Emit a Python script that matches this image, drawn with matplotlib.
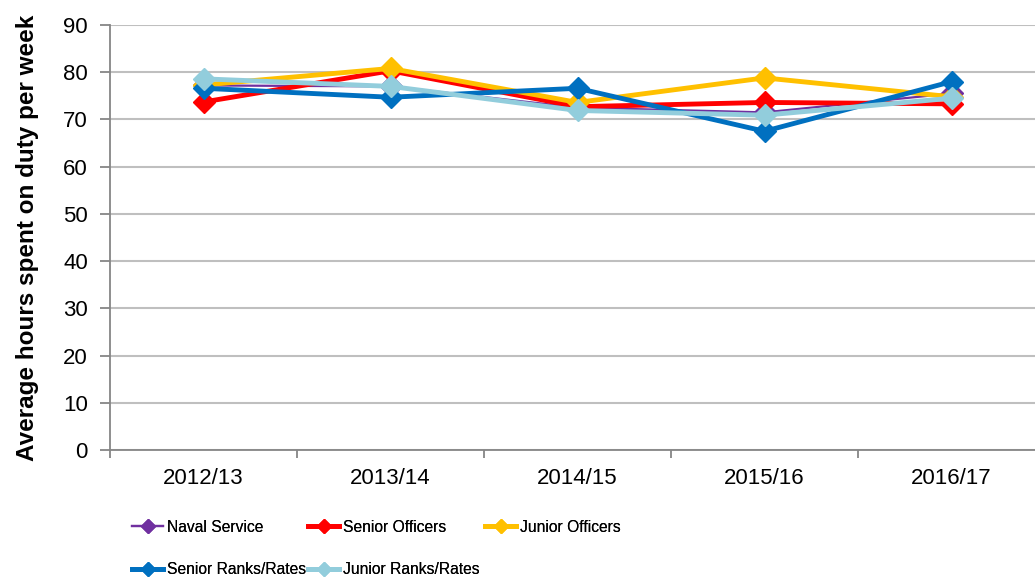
import matplotlib
matplotlib.use("Agg")
import matplotlib.pyplot as plt
from matplotlib.textpath import TextPath
from matplotlib.font_manager import FontProperties

years = ["2012/13", "2013/14", "2014/15", "2015/16", "2016/17"]
naval_service = [77.2, 77.0, 72.5, 71.5, 75.5]
senior_officers = [73.7, 80.3, 72.7, 73.6, 73.3]
junior_officers = [77.3, 80.8, 73.6, 78.8, 74.8]
senior_ranks = [76.6, 74.7, 76.6, 67.5, 78.0]
junior_ranks = [78.6, 77.0, 71.9, 70.9, 74.5]

series = [
    ("Naval Service", naval_service, "#7030A0", 1.6),
    ("Senior Officers", senior_officers, "#FF0000", 3.5),
    ("Junior Officers", junior_officers, "#FFC000", 3.5),
    ("Senior Ranks/Rates", senior_ranks, "#0070C0", 3.5),
    ("Junior Ranks/Rates", junior_ranks, "#92CDDC", 3.5),
]

leg_font = FontProperties(family='Liberation Sans')
# fit legend font size so "Senior Ranks/Rates" spans ~138 px
target_px = 138
tp = TextPath((0, 0), "Senior Ranks/Rates", size=10, prop=leg_font)
w10 = tp.get_extents().width
leg_size = min(17.0, 10 * target_px / (w10 * 100 / 72))
leg_font.set_size(leg_size)

plt.rcParams['font.family'] = ['Liberation Sans', 'DejaVu Sans']
W, H = 1035, 584
fig = plt.figure(figsize=(W / 100, H / 100), dpi=100)
ax = fig.add_axes([110 / W, 1 - 450 / H, (1045 - 110) / W, (450 - 25) / H])

x = list(range(len(years)))
handles = []
for name, vals, col, lw in series:
    h, = ax.plot(x, vals, color=col, lw=lw, marker='D', markersize=11, label=name,
                 clip_on=False)
    handles.append(h)

ax.set_xlim(-0.5, len(years) - 0.5)
ax.set_ylim(0, 90)
ax.set_yticks(range(0, 91, 10))
ax.set_xticks(x)
ax.set_xticklabels(years)
ax.set_xticks([i + 0.5 for i in range(-1, len(years))], minor=True)
ax.tick_params(axis='x', which='major', length=0, labelsize=16, pad=13)
ax.tick_params(axis='x', which='minor', length=6, width=1.3, color='#868686', direction='out')
ax.tick_params(axis='y', length=7, width=1.3, color='#868686', labelsize=16, direction='out', pad=9)
ax.yaxis.grid(True, color='#BFBFBF', lw=1.5)
ax.set_axisbelow(True)
for s in ['top', 'right']:
    ax.spines[s].set_visible(False)
for s in ['left', 'bottom']:
    ax.spines[s].set_color('#868686')
    ax.spines[s].set_linewidth(1.3)
ax.set_ylabel("Average hours spent on duty per week", fontsize=17.5, fontweight='bold', labelpad=17)

# legend entries placed individually (row-major as in the reference)
hl_px = 31
positions = [(132, 527), (308, 527), (485, 527), (132, 570), (308, 570)]
fs_px = leg_size * 100 / 72
for h, (px, py) in zip(handles, positions):
    leg = fig.legend([h], [h.get_label()], loc='center left',
                     bbox_to_anchor=(px / W, 1 - py / H), frameon=False,
                     prop=leg_font, handlelength=hl_px / fs_px,
                     handletextpad=4 / fs_px, borderaxespad=0, borderpad=0,
                     markerscale=0.65)
    fig.add_artist(leg)

fig.savefig("out.png", dpi=100)
